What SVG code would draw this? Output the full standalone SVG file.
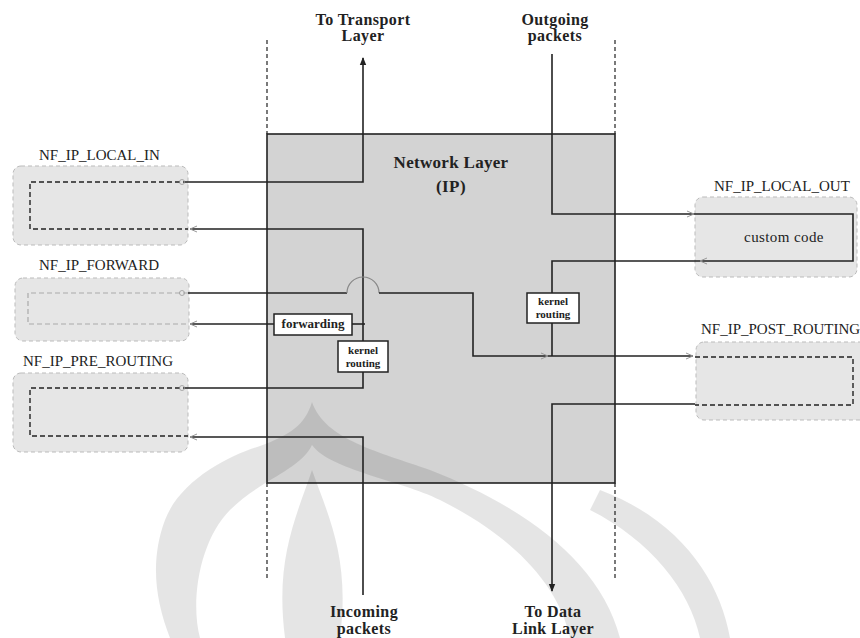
<svg xmlns="http://www.w3.org/2000/svg" width="860" height="638" viewBox="0 0 860 638">
<defs>
<style>
.ln{fill:none;stroke:#222;stroke-width:1.6}
.dsh{fill:none;stroke:#222;stroke-width:1.4;stroke-dasharray:5,3}
.dshl{fill:none;stroke:#aaa;stroke-width:1.2;stroke-dasharray:5,3}
.vd{fill:none;stroke:#222;stroke-width:1.2;stroke-dasharray:4,3}
.hook{fill:#e6e6e6;stroke:#bbb;stroke-width:1;stroke-dasharray:4,3}
.lbl{font-family:"Liberation Serif",serif;font-size:16px;font-weight:bold;fill:#222;text-anchor:middle;letter-spacing:0.4px}
.nf{font-family:"Liberation Serif",serif;font-size:15px;fill:#222}
.sm{font-family:"Liberation Serif",serif;font-size:11px;font-weight:bold;fill:#222;text-anchor:middle}
.tag{fill:#fff;stroke:#222;stroke-width:1.5}
.wm{fill:#000;fill-opacity:0.1;stroke:none}
</style>
<marker id="arr" markerWidth="8" markerHeight="8" refX="7" refY="4" orient="auto" markerUnits="userSpaceOnUse"><path d="M0,0.8 L8,4 L0,7.2 Z" fill="#222"/></marker>
<marker id="farr" markerWidth="8" markerHeight="8" refX="7" refY="4" orient="auto" markerUnits="userSpaceOnUse"><path d="M0,1 L7,4 L0,7" fill="none" stroke="#999" stroke-width="1"/></marker>
</defs>

<rect width="860" height="638" fill="#fff"/>

<g id="network-layer">
<rect x="267" y="134" width="348" height="349" fill="#d3d3d3" stroke="#222" stroke-width="1.6"/>
<text class="lbl" x="451" y="168" style="font-size:17px;letter-spacing:0.3px">Network Layer</text>
<text class="lbl" x="451" y="192" style="font-size:17px">(IP)</text>
</g>

<g id="boundaries">
<line class="vd" x1="267" y1="40" x2="267" y2="134"/>
<line class="vd" x1="615" y1="40" x2="615" y2="134"/>
<line class="vd" x1="267" y1="483" x2="267" y2="580"/>
<line class="vd" x1="615" y1="483" x2="615" y2="580"/>
</g>

<g id="watermark">
<path class="wm" fill-rule="evenodd" d="M312,402 C325,440 380,452 430,470 C520,505 600,560 620,638 L170,638 C155,600 150,560 165,520 C180,480 230,455 260,446 C290,435 305,425 312,402 Z M312,445 C330,470 400,480 440,500 C520,540 560,590 570,638 L200,638 C190,600 200,540 230,510 C260,480 300,470 312,445 Z"/>
<path class="wm" d="M312,470 C330,520 350,560 340,638 L285,638 C275,560 295,520 312,470 Z"/>
<path class="wm" d="M600,490 C680,520 720,580 730,638 L700,638 C690,590 650,540 590,510 Z"/>
</g>

<g id="nf-ip-local-in">
<text class="nf" x="39" y="160">NF_IP_LOCAL_IN</text>
<rect class="hook" x="13" y="166" width="175" height="79" rx="8"/>
<path class="dsh" d="M188,182 H30 V229 H188"/>
</g>

<g id="nf-ip-forward">
<text class="nf" x="39" y="270">NF_IP_FORWARD</text>
<rect class="hook" x="15" y="278" width="174" height="63" rx="8"/>
<path class="dshl" d="M188,293 H28 V324 H188"/>
</g>

<g id="nf-ip-pre-routing">
<text class="nf" x="23" y="366">NF_IP_PRE_ROUTING</text>
<rect class="hook" x="13" y="373" width="175" height="79" rx="8"/>
<path class="dsh" d="M188,388 H30 V436 H188"/>
</g>

<g id="nf-ip-local-out">
<text class="nf" x="714" y="191">NF_IP_LOCAL_OUT</text>
<rect class="hook" x="695" y="197" width="162" height="80" rx="8"/>
<text class="nf" x="784" y="242" style="text-anchor:middle;letter-spacing:0.4px">custom code</text>
</g>

<g id="nf-ip-post-routing">
<text class="nf" x="701" y="334">NF_IP_POST_ROUTING</text>
<rect class="hook" x="696" y="342" width="180" height="78" rx="8"/>
<path class="dsh" d="M695,357 H853 V405 H695"/>
</g>

<g id="connectors">
<path class="ln" d="M188,182 H363 V58" marker-end="url(#arr)"/>
<path class="ln" d="M363,341 V229 H190" marker-end="url(#farr)"/>
<path class="ln" d="M365,324 H352"/>
<path class="ln" d="M274,324 H190" marker-end="url(#farr)"/>
<path class="ln" d="M188,293 H347"/>
<path d="M347,293 A16,16 0 0 1 379,293" fill="none" stroke="#888" stroke-width="1.2"/>
<path class="ln" d="M379,293 H473 V356 H548" marker-end="url(#farr)"/>
<path class="ln" d="M548,356 H693" marker-end="url(#farr)"/>
<path class="ln" d="M188,388 H363 V372"/>
<path class="ln" d="M363,595 V437 H190" marker-end="url(#farr)"/>
<path class="ln" d="M552,54 V214 H694" marker-end="url(#farr)"/>
<path class="ln" d="M694,214 H853 V261 H700" marker-end="url(#farr)"/>
<path class="ln" d="M700,261 H552 V293"/>
<path class="ln" d="M552,323 V356"/>
<path class="ln" d="M695,404 H552 V591" marker-end="url(#arr)"/>
<circle cx="182" cy="182" r="2.5" fill="none" stroke="#999" stroke-width="0.8"/>
<circle cx="182" cy="293" r="2.5" fill="none" stroke="#999" stroke-width="0.8"/>
<circle cx="182" cy="388" r="2.5" fill="none" stroke="#999" stroke-width="0.8"/>
</g>

<g id="forwarding">
<rect class="tag" x="274" y="314" width="78" height="21"/>
<text class="sm" x="313" y="328" style="font-size:13px">forwarding</text>
</g>

<g id="kernel-routing-1">
<rect class="tag" x="338" y="341" width="50" height="31"/>
<text class="sm" x="363" y="354">kernel</text>
<text class="sm" x="363" y="367">routing</text>
</g>

<g id="kernel-routing-2">
<rect class="tag" x="527" y="293" width="52" height="30"/>
<text class="sm" x="553" y="305">kernel</text>
<text class="sm" x="553" y="318">routing</text>
</g>

<g id="labels">
<text class="lbl" x="363" y="25">To Transport</text>
<text class="lbl" x="363" y="41">Layer</text>
<text class="lbl" x="555" y="25">Outgoing</text>
<text class="lbl" x="555" y="41">packets</text>
<text class="lbl" x="364" y="617">Incoming</text>
<text class="lbl" x="364" y="634">packets</text>
<text class="lbl" x="553" y="617">To Data</text>
<text class="lbl" x="553" y="634">Link Layer</text>
</g>
</svg>
